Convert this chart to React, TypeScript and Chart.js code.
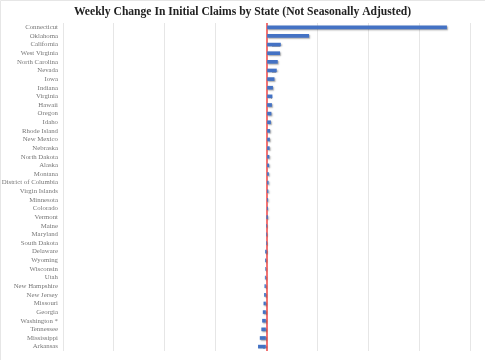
import React, { useEffect, useRef } from "react";
import { Chart, registerables } from "chart.js";

Chart.register(...registerables);

const TITLE = "Weekly Change In Initial Claims by State (Not Seasonally Adjusted)";

const states: string[] = [
  "Connecticut", "Oklahoma", "California", "West Virginia", "North Carolina",
  "Nevada", "Iowa", "Indiana", "Virginia", "Hawaii", "Oregon", "Idaho",
  "Rhode Island", "New Mexico", "Nebraska", "North Dakota", "Alaska", "Montana",
  "District of Columbia", "Virgin Islands", "Minnesota", "Colorado", "Vermont",
  "Maine", "Maryland", "South Dakota", "Delaware", "Wyoming", "Wisconsin", "Utah",
  "New Hampshire", "New Jersey", "Missouri", "Georgia", "Washington *",
  "Tennessee", "Mississippi", "Arkansas",
];

const weeklyChange: number[] = [
  35400, 8300, 2750, 2600, 2150, 1950, 1500, 1200, 1100, 1000, 900, 800,
  650, 600, 550, 500, 450, 400, 350, 300, 250, 150, 50,
  0, 0, 0, -50, -150, -200, -250, -330, -400, -520, -660, -790,
  -950, -1250, -1600,
];

const xMin = -40000;
const xMax = 40000;
const xStep = 10000;

const shadowPlugin = {
  id: "barShadow",
  beforeDatasetsDraw(chart: any) {
    const ctx = chart.ctx;
    ctx.save();
    ctx.shadowColor = "rgba(0,0,0,0.35)";
    ctx.shadowBlur = 1.5;
    ctx.shadowOffsetX = 1;
    ctx.shadowOffsetY = 1;
  },
  afterDatasetsDraw(chart: any) {
    chart.ctx.restore();
  },
};

const framePlugin = {
  id: "frame",
  afterDraw(chart: any) {
    const ctx = chart.ctx;
    ctx.save();
    ctx.strokeStyle = "#e6e6e6";
    ctx.lineWidth = 1;
    ctx.beginPath();
    ctx.moveTo(0.5, chart.height);
    ctx.lineTo(0.5, 0.5);
    ctx.lineTo(chart.width, 0.5);
    ctx.stroke();
    ctx.fillStyle = "#222";
    ctx.font = "bold 11.6px 'Liberation Serif', serif";
    ctx.textAlign = "center";
    ctx.textBaseline = "middle";
    ctx.fillText(TITLE, chart.width / 2, 11.5);
    ctx.restore();
  },
};

export default function App() {
  const ref = useRef<HTMLCanvasElement | null>(null);

  useEffect(() => {
    document.body.style.margin = "0";
    if (!ref.current) return;
    const chart = new Chart(ref.current, {
      type: "bar",
      data: {
        labels: states,
        datasets: [
          {
            data: weeklyChange,
            backgroundColor: "#4472c4",
            borderWidth: 0,
            barThickness: 3,
          },
        ],
      },
      options: {
        indexAxis: "y",
        responsive: false,
        animation: false,
        layout: { padding: { top: 23, right: 15, bottom: 0, left: 0 } },
        plugins: {
          legend: { display: false },
          tooltip: { enabled: false },
          title: { display: false },
        },
        scales: {
          x: {
            min: xMin,
            max: xMax,
            ticks: { display: false, stepSize: xStep },
            border: { display: false },
            grid: {
              drawTicks: false,
              color: (c: any) => (c.tick && c.tick.value === 0 ? "rgba(240,90,90,0.85)" : "#e6e6e6"),
              lineWidth: (c: any) => (c.tick && c.tick.value === 0 ? 2 : 1),
            },
          },
          y: {
            border: { display: false },
            grid: { display: false, drawTicks: false },
            ticks: {
              color: "#777",
              padding: 5,
              autoSkip: false,
              font: { family: "'Liberation Serif', serif", size: 6.8 },
            },
            afterFit: (scale: any) => {
              scale.width = 63;
            },
          },
        },
      },
      plugins: [shadowPlugin, framePlugin],
    });
    return () => chart.destroy();
  }, []);

  return <canvas ref={ref} width={485} height={360} style={{ display: "block" }} />;
}
